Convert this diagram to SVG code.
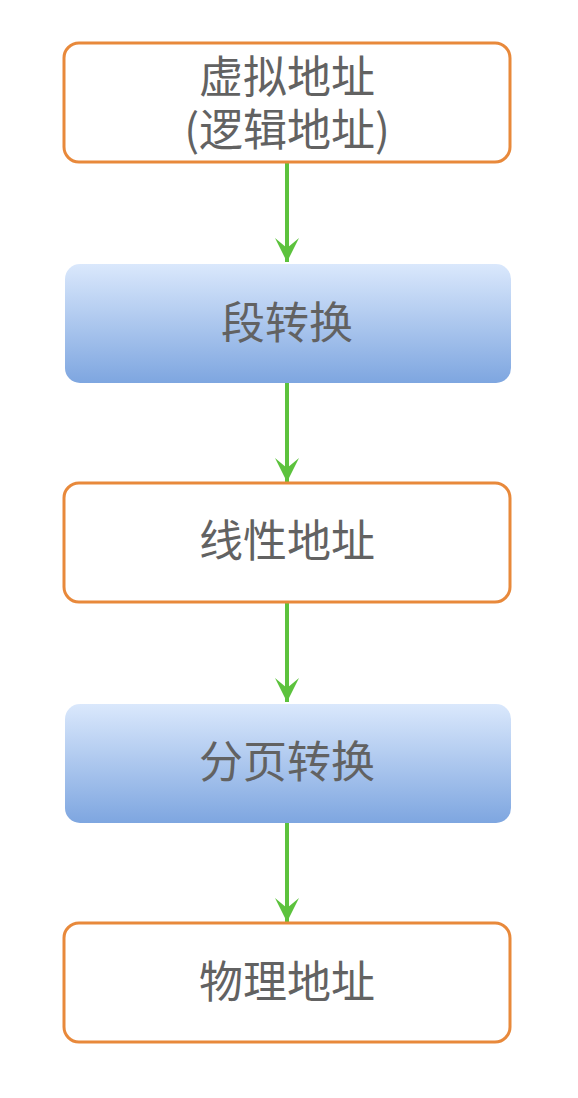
<svg xmlns="http://www.w3.org/2000/svg" width="578" height="1098" viewBox="0 0 578 1098">
<defs>
<linearGradient id="blueGrad" x1="0" y1="0" x2="0" y2="1">
<stop offset="0" stop-color="#dae8fc"/>
<stop offset="1" stop-color="#7ea6e0"/>
</linearGradient>
<marker id="arrow" markerUnits="userSpaceOnUse" markerWidth="26" markerHeight="26" viewBox="0 0 26 26" refX="24" refY="13" orient="auto">
<path d="M24,13 L0,1 L10,13 L0,25 Z" fill="#5cc23d"/>
</marker>
</defs>
<style>
.addr{fill:#ffffff;stroke:#e8893b;stroke-width:3}
.step{fill:url(#blueGrad);stroke:none}
.lbl{font-family:"Noto Sans CJK SC","Noto Sans",sans-serif;font-size:44px;fill:#626262;text-anchor:middle}
.conn{stroke:#5cc23d;stroke-width:4;fill:none;marker-end:url(#arrow)}
</style>
<rect width="578" height="1098" fill="#ffffff"/>
<g id="connectors">
<line class="conn" x1="287" y1="162" x2="287" y2="262"/>
<line class="conn" x1="287" y1="383" x2="287" y2="482"/>
<line class="conn" x1="287" y1="602" x2="287" y2="702"/>
<line class="conn" x1="287" y1="823" x2="287" y2="922"/>
</g>
<g id="virtual">
<rect class="addr" x="64" y="43" width="446" height="119" rx="15"/>
<text class="lbl" x="287" y="93">虚拟地址</text>
<text class="lbl" x="287" y="146">(逻辑地址)</text>
</g>
<g id="segment">
<rect class="step" x="65" y="264" width="446" height="119" rx="15"/>
<text class="lbl" x="287" y="339">段转换</text>
</g>
<g id="linear">
<rect class="addr" x="64" y="483" width="446" height="119" rx="15"/>
<text class="lbl" x="287" y="557">线性地址</text>
</g>
<g id="paging">
<rect class="step" x="65" y="704" width="446" height="119" rx="15"/>
<text class="lbl" x="287" y="778">分页转换</text>
</g>
<g id="physical">
<rect class="addr" x="64" y="923" width="446" height="119" rx="15"/>
<text class="lbl" x="287" y="998">物理地址</text>
</g>
</svg>
